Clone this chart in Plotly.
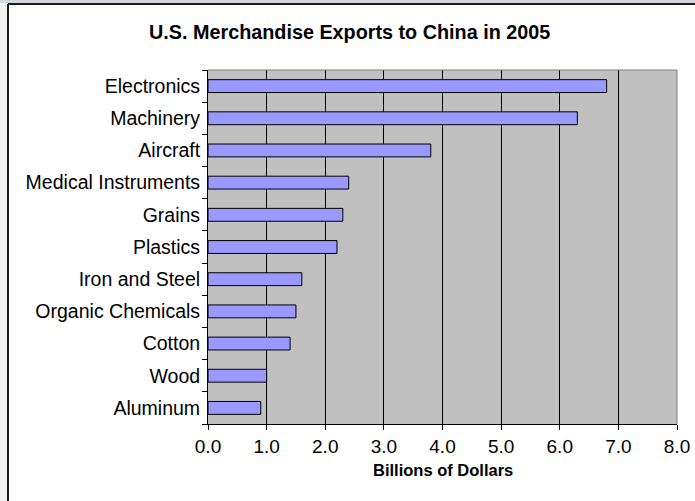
import plotly.graph_objects as go

# U.S. merchandise exports to China, 2005 (billions of dollars)
categories = [
    "Electronics", "Machinery", "Aircraft", "Medical Instruments", "Grains",
    "Plastics", "Iron and Steel", "Organic Chemicals", "Cotton", "Wood", "Aluminum",
]
exports_billions = [6.8, 6.3, 3.8, 2.4, 2.3, 2.2, 1.6, 1.5, 1.4, 1.0, 0.9]
x_tick_values = [0, 1, 2, 3, 4, 5, 6, 7, 8]
x_tick_labels = ["0.0", "1.0", "2.0", "3.0", "4.0", "5.0", "6.0", "7.0", "8.0"]

FONT = "Liberation Sans, Arial, sans-serif"
W, H = 695, 501
L, R, T, B = 208, 677, 70, 424  # plot area edges in pixels


def px(x):
    return (x - L) / (R - L)


def py(y):
    return (B - y) / (B - T)


fig = go.Figure(
    go.Bar(
        x=exports_billions,
        y=categories,
        orientation="h",
        marker=dict(color="#9999FF", line=dict(color="#000000", width=1)),
        hoverinfo="x+y",
    )
)

shapes = [
    # window chrome strips at top and left
    dict(type="rect", xref="paper", yref="paper", x0=px(0), x1=px(W), y0=py(0), y1=py(3),
         fillcolor="#D4D8DC", line=dict(width=0), layer="below"),
    dict(type="rect", xref="paper", yref="paper", x0=px(0), x1=px(7), y0=py(3), y1=py(H),
         fillcolor="#F2F2F2", line=dict(width=0), layer="below"),
    # chart frame
    dict(type="line", xref="paper", yref="paper", x0=px(8), x1=px(W), y0=py(4), y1=py(4),
         line=dict(color="#1A1A1A", width=2)),
    dict(type="line", xref="paper", yref="paper", x0=px(8), x1=px(8), y0=py(4), y1=py(H),
         line=dict(color="#1A1A1A", width=2)),
    # plot-area border, top and right
    dict(type="line", xref="paper", yref="paper", x0=0, x1=1, y0=1, y1=1,
         line=dict(color="#808080", width=1)),
    dict(type="line", xref="paper", yref="paper", x0=1, x1=1, y0=0, y1=1,
         line=dict(color="#808080", width=1)),
]

fig.update_layout(
    width=W,
    height=H,
    margin=dict(l=L, r=W - R, t=T, b=H - B, pad=0, autoexpand=False),
    paper_bgcolor="#FFFFFF",
    plot_bgcolor="#C0C0C0",
    bargap=0.6,
    showlegend=False,
    font=dict(family=FONT, color="#000000", size=19),
    shapes=shapes,
    annotations=[
        dict(text="<b>U.S. Merchandise Exports to China in 2005</b>", xref="paper", yref="paper",
             x=px(349), y=py(32), xanchor="center", yanchor="middle", showarrow=False,
             font=dict(family=FONT, size=19.8, color="#000000")),
        dict(text="<b>Billions of Dollars</b>", xref="paper", yref="paper",
             x=px(443), y=py(470), xanchor="center", yanchor="middle", showarrow=False,
             font=dict(family=FONT, size=16.5, color="#000000")),
    ],
)

fig.update_xaxes(
    range=[0, 8],
    tickmode="array",
    tickvals=x_tick_values,
    ticktext=x_tick_labels,
    showgrid=True,
    gridcolor="#000000",
    gridwidth=1,
    zeroline=False,
    showline=True,
    linecolor="#000000",
    linewidth=1,
    ticks="outside",
    ticklen=5,
    tickcolor="#000000",
    tickfont=dict(family=FONT, size=19),
    automargin=False,
    fixedrange=True,
)

fig.update_yaxes(
    categoryorder="array",
    categoryarray=categories[::-1],
    showgrid=False,
    zeroline=False,
    showline=True,
    linecolor="#000000",
    linewidth=1,
    ticks="outside",
    tickson="boundaries",
    ticklen=5,
    tickcolor="#000000",
    ticklabelstandoff=3,
    tickfont=dict(family=FONT, size=19.5),
    automargin=False,
    fixedrange=True,
)

fig.write_html("out.html")
